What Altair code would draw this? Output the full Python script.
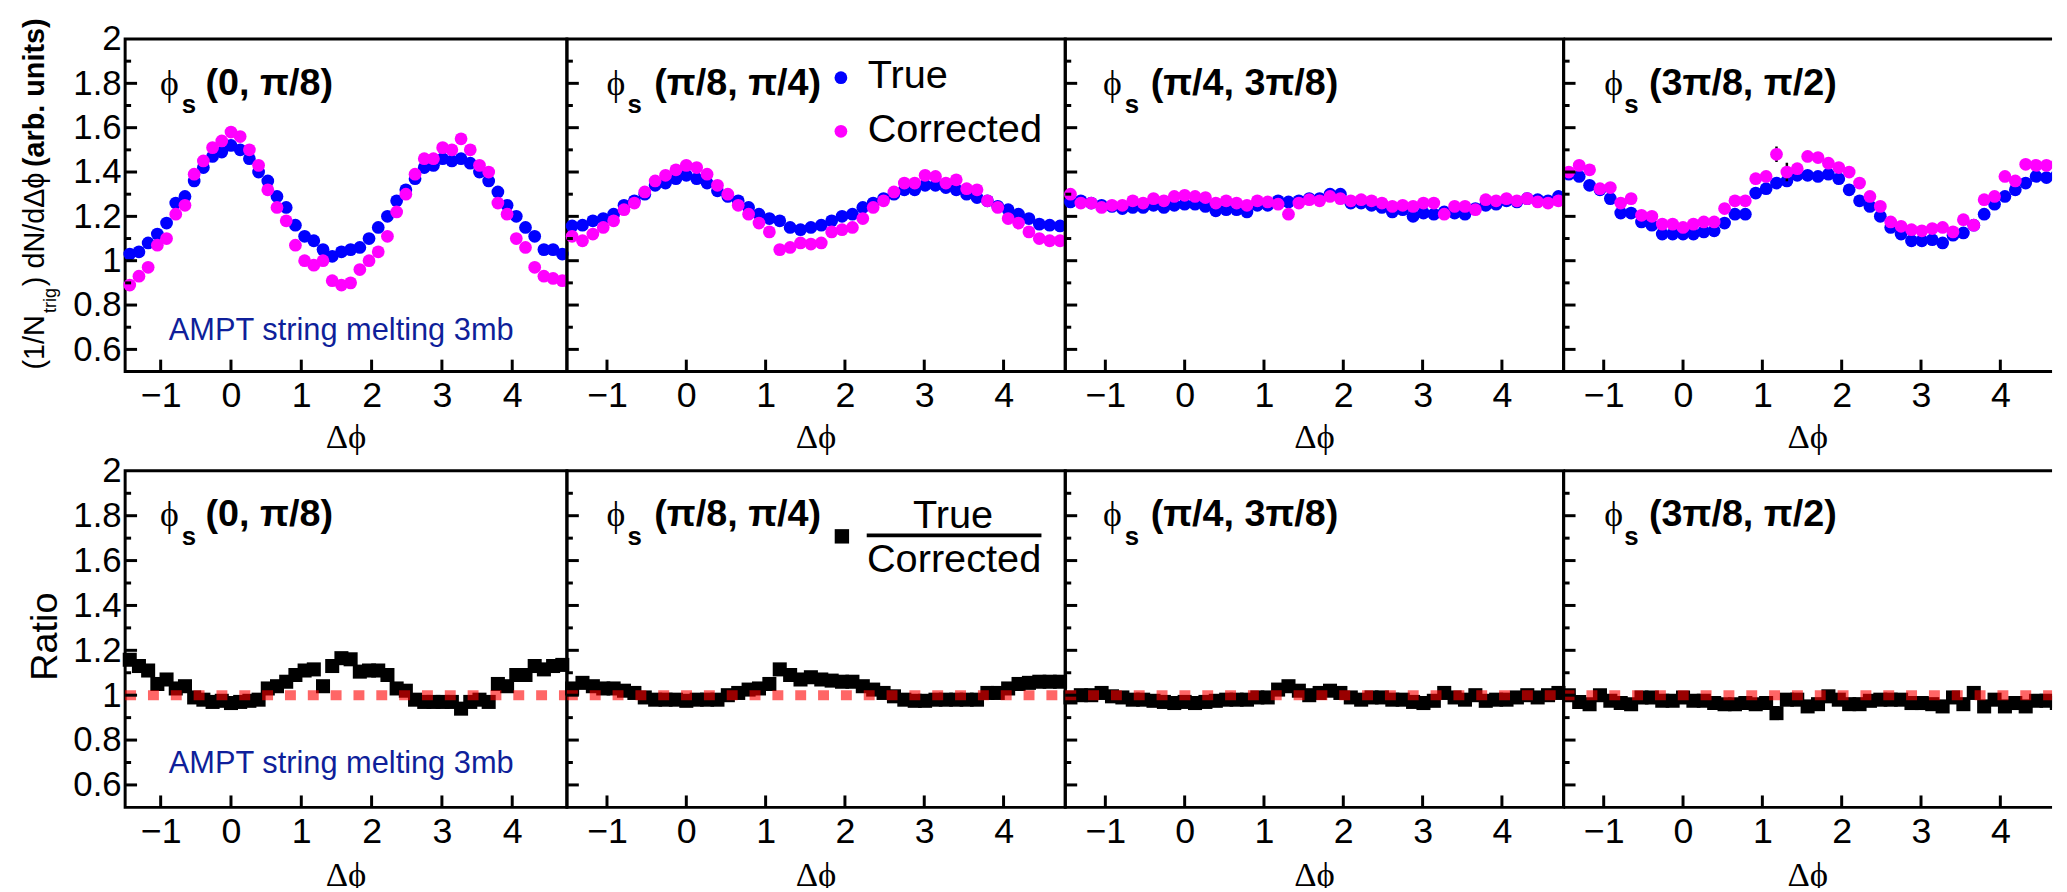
import altair as alt
import pandas as pd

# ---------------- data ----------------
DPHI = [-1.4399, -1.3090, -1.1781, -1.0472, -0.9163, -0.7854, -0.6545, -0.5236,
        -0.3927, -0.2618, -0.1309, 0.0, 0.1309, 0.2618, 0.3927, 0.5236,
        0.6545, 0.7854, 0.9163, 1.0472, 1.1781, 1.3090, 1.4399, 1.5708,
        1.7017, 1.8326, 1.9635, 2.0944, 2.2253, 2.3562, 2.4871, 2.6180,
        2.7489, 2.8798, 3.0107, 3.1416, 3.2725, 3.4034, 3.5343, 3.6652,
        3.7961, 3.9270, 4.0579, 4.1888, 4.3197, 4.4506, 4.5815, 4.7124]

TRUE_1 = [1.03, 1.04, 1.08, 1.12, 1.17, 1.26, 1.29, 1.36, 1.42, 1.47, 1.49, 1.52,
          1.50, 1.46, 1.40, 1.36, 1.29, 1.24, 1.16, 1.11, 1.09, 1.05, 1.02, 1.04,
          1.05, 1.06, 1.10, 1.15, 1.20, 1.27, 1.32, 1.37, 1.42, 1.43, 1.46, 1.45,
          1.46, 1.44, 1.40, 1.36, 1.31, 1.25, 1.20, 1.15, 1.11, 1.05, 1.05, 1.03]
CORR_1 = [0.89, 0.93, 0.97, 1.07, 1.10, 1.21, 1.25, 1.39, 1.45, 1.51, 1.54, 1.58,
          1.56, 1.50, 1.43, 1.32, 1.24, 1.18, 1.07, 1.00, 0.98, 1.00, 0.91, 0.89,
          0.90, 0.96, 1.00, 1.04, 1.11, 1.22, 1.30, 1.39, 1.46, 1.46, 1.51, 1.50,
          1.55, 1.50, 1.43, 1.40, 1.26, 1.21, 1.10, 1.06, 0.97, 0.93, 0.92, 0.91]

TRUE_2 = [1.157, 1.16, 1.18, 1.19, 1.21, 1.25, 1.27, 1.30, 1.34, 1.35, 1.37, 1.385,
          1.37, 1.35, 1.315, 1.29, 1.27, 1.24, 1.21, 1.19, 1.18, 1.15, 1.14, 1.15,
          1.16, 1.18, 1.20, 1.21, 1.24, 1.26, 1.28, 1.30, 1.32, 1.32, 1.34, 1.34,
          1.33, 1.32, 1.30, 1.285, 1.27, 1.245, 1.23, 1.21, 1.19, 1.165, 1.16, 1.157]
CORR_2 = [1.11, 1.09, 1.12, 1.15, 1.18, 1.23, 1.26, 1.31, 1.36, 1.385, 1.41, 1.43,
          1.42, 1.39, 1.34, 1.30, 1.25, 1.21, 1.17, 1.13, 1.05, 1.06, 1.08, 1.075,
          1.08, 1.13, 1.14, 1.15, 1.19, 1.24, 1.27, 1.31, 1.35, 1.35, 1.385, 1.38,
          1.35, 1.365, 1.325, 1.32, 1.27, 1.24, 1.19, 1.17, 1.13, 1.10, 1.09, 1.09]

TRUE_3 = [1.265, 1.27, 1.26, 1.25, 1.245, 1.235, 1.24, 1.24, 1.25, 1.24, 1.25, 1.255,
          1.255, 1.245, 1.225, 1.23, 1.23, 1.22, 1.25, 1.25, 1.27, 1.265, 1.27, 1.28,
          1.28, 1.30, 1.30, 1.26, 1.26, 1.25, 1.24, 1.22, 1.23, 1.20, 1.215, 1.21,
          1.22, 1.215, 1.21, 1.235, 1.25, 1.255, 1.27, 1.265, 1.28, 1.275, 1.27, 1.29]
CORR_3 = [1.30, 1.26, 1.26, 1.24, 1.25, 1.25, 1.27, 1.26, 1.28, 1.27, 1.29, 1.295,
          1.29, 1.285, 1.26, 1.27, 1.26, 1.25, 1.27, 1.265, 1.255, 1.21, 1.26, 1.275,
          1.27, 1.29, 1.28, 1.27, 1.275, 1.27, 1.26, 1.245, 1.25, 1.245, 1.26, 1.26,
          1.21, 1.245, 1.245, 1.23, 1.275, 1.27, 1.28, 1.27, 1.28, 1.265, 1.26, 1.27]

TRUE_4 = [1.39, 1.38, 1.34, 1.32, 1.28, 1.215, 1.215, 1.175, 1.16, 1.12, 1.12, 1.12,
          1.12, 1.13, 1.135, 1.17, 1.21, 1.21, 1.305, 1.325, 1.35, 1.36, 1.385, 1.385,
          1.38, 1.39, 1.37, 1.32, 1.27, 1.245, 1.20, 1.15, 1.12, 1.09, 1.09, 1.095,
          1.08, 1.115, 1.125, 1.16, 1.21, 1.255, 1.29, 1.32, 1.35, 1.38, 1.375, 1.385]
CORR_4 = [1.40, 1.43, 1.41, 1.325, 1.33, 1.26, 1.28, 1.205, 1.20, 1.165, 1.165, 1.15,
          1.165, 1.175, 1.175, 1.235, 1.27, 1.27, 1.37, 1.38, 1.48, 1.40, 1.415, 1.47,
          1.465, 1.44, 1.42, 1.40, 1.35, 1.29, 1.245, 1.175, 1.155, 1.14, 1.135, 1.145,
          1.15, 1.13, 1.185, 1.16, 1.275, 1.29, 1.38, 1.36, 1.435, 1.43, 1.43, 1.435]
CORR_4_ERR = [0.008] * 20 + [0.035, 0.042] + [0.008] * 26

RATIO_1 = [1.158, 1.13, 1.11, 1.05, 1.07, 1.03, 1.04, 0.99, 0.98, 0.97, 0.975, 0.965,
           0.97, 0.975, 0.98, 1.03, 1.04, 1.06, 1.09, 1.11, 1.115, 1.04, 1.13, 1.165,
           1.16, 1.105, 1.11, 1.11, 1.09, 1.03, 1.02, 0.98, 0.97, 0.97, 0.97, 0.97,
           0.94, 0.97, 0.98, 0.97, 1.05, 1.04, 1.09, 1.09, 1.13, 1.115, 1.13, 1.135]
RATIO_2 = [1.03, 1.055, 1.04, 1.03, 1.03, 1.02, 1.01, 0.99, 0.98, 0.98, 0.98, 0.975,
           0.98, 0.98, 0.98, 1.00, 1.01, 1.025, 1.03, 1.05, 1.115, 1.09, 1.07, 1.08,
           1.07, 1.065, 1.06, 1.06, 1.04, 1.025, 1.01, 0.995, 0.98, 0.975, 0.975, 0.98,
           0.98, 0.98, 0.98, 0.98, 1.01, 1.01, 1.03, 1.05, 1.055, 1.06, 1.06, 1.06]
RATIO_3 = [0.99, 1.00, 1.00, 1.01, 0.995, 0.99, 0.98, 0.98, 0.975, 0.97, 0.965, 0.97,
           0.965, 0.97, 0.975, 0.98, 0.98, 0.98, 0.99, 0.99, 1.025, 1.04, 1.02, 1.00,
           1.01, 1.02, 1.01, 0.99, 0.98, 0.99, 0.99, 0.98, 0.98, 0.97, 0.965, 0.975,
           1.01, 0.99, 0.98, 1.00, 0.975, 0.98, 0.98, 0.99, 1.00, 0.99, 1.00, 1.01]
RATIO_4 = [1.00, 0.97, 0.96, 1.00, 0.975, 0.965, 0.96, 0.99, 0.99, 0.975, 0.975, 0.99,
           0.975, 0.975, 0.965, 0.96, 0.96, 0.965, 0.96, 0.965, 0.92, 0.98, 0.98, 0.95,
           0.96, 0.995, 0.98, 0.96, 0.96, 0.975, 0.98, 0.98, 0.98, 0.965, 0.965, 0.96,
           0.95, 0.99, 0.96, 1.01, 0.95, 0.98, 0.95, 0.965, 0.95, 0.975, 0.975, 0.965]

TRUE = [TRUE_1, TRUE_2, TRUE_3, TRUE_4]
CORR = [CORR_1, CORR_2, CORR_3, CORR_4]
RATIO = [RATIO_1, RATIO_2, RATIO_3, RATIO_4]

PANEL_LABELS = ["(0,  π/8)", "(π/8,  π/4)", "(π/4, 3π/8)", "(3π/8,  π/2)"]
Y_LABELS = [0.6, 0.8, 1.0, 1.2, 1.4, 1.6, 1.8, 2.0]
Y_MAJOR = [0.6, 0.8, 1.0, 1.2, 1.4, 1.6, 1.8]
Y_MINOR = [0.7, 0.9, 1.1, 1.3, 1.5, 1.7, 1.9]
X_TICKS = [-1, 0, 1, 2, 3, 4]
RATIO_REF = [1.0]
Y_DOMAIN = [0.5, 2.0]

# ---------------- style / layout ----------------
SANS = "Liberation Sans, Arial, Helvetica, sans-serif"
SERIF = "Liberation Serif, DejaVu Serif, serif"
BLUE = "#0000ff"
MAGENTA = "#ff00ff"
AMPT_COLOR = "#0f1f9a"
CIRCLE_SIZE = 165
SQUARE_SIZE = 200

H_ROW = [335, 339]
WIDTHS = [445, 502, 502, 492]
X0 = -1.5053
X1 = [4.7779, 4.7779, 4.7779, 4.652]
PHI_X = [35, 40, 38, 41]
SUB_X = [57, 61, 60, 61]
LAB_X = [81, 88, 86, 86]


def txt(s, x, y, **kw):
    return alt.Chart(pd.DataFrame({"t": [s]})).mark_text(**kw).encode(
        text="t:N", x=alt.value(x), y=alt.value(y))


def prule(x, x2, y, y2, **kw):
    return alt.Chart(pd.DataFrame({"a": [0]})).mark_rule(**kw).encode(
        x=alt.value(x), x2=alt.value(x2), y=alt.value(y), y2=alt.value(y2))


def make_panel(i, row):
    w = WIDTHS[i]
    H = H_ROW[row]
    clip = (i == 3)
    xs = alt.Scale(domain=[X0, X1[i]], nice=False, zero=False)
    ys = alt.Scale(domain=Y_DOMAIN, nice=False, zero=False)
    xaxis = alt.Axis(values=X_TICKS, title=None, ticks=False, tickSize=0, domain=False,
                     grid=False, labelFontSize=36, labelFont=SANS, labelColor="black",
                     labelPadding=7, labelFlush=False, labelOverlap=False)
    if i == 0:
        yaxis = alt.Axis(values=Y_LABELS, format="~g", title=None, ticks=False, tickSize=0,
                         domain=False, grid=False, labelFontSize=35, labelFont=SANS,
                         labelColor="black", labelPadding=4, labelFlush=False,
                         labelOverlap=False)
    else:
        yaxis = None
    X = alt.X("x:Q", scale=xs, axis=xaxis)
    Y = alt.Y("y:Q", scale=ys, axis=yaxis)

    layers = []
    if row == 0:
        df_t = pd.DataFrame({"x": DPHI, "y": TRUE[i]})
        df_c = pd.DataFrame({"x": DPHI, "y": CORR[i]})
        layers.append(alt.Chart(df_t).mark_circle(size=CIRCLE_SIZE, color=BLUE, opacity=1, clip=clip)
                      .encode(x=X, y=Y))
        if i == 3:
            df_e = pd.DataFrame({"x": DPHI,
                                 "lo": [c - e for c, e in zip(CORR_4, CORR_4_ERR)],
                                 "hi": [c + e for c, e in zip(CORR_4, CORR_4_ERR)]})
            layers.append(alt.Chart(df_e).mark_rule(color="black", strokeWidth=2.5, clip=True)
                          .encode(x=X, y=alt.Y("lo:Q", scale=ys, axis=None), y2="hi:Q"))
        layers.append(alt.Chart(df_c).mark_circle(size=CIRCLE_SIZE, color=MAGENTA, opacity=1, clip=clip)
                      .encode(x=X, y=Y))
    else:
        df_r = pd.DataFrame({"x": DPHI, "y": RATIO[i]})
        layers.append(alt.Chart(df_r).mark_square(size=SQUARE_SIZE, color="black", opacity=1, clip=clip)
                      .encode(x=X, y=Y))
        layers.append(alt.Chart(pd.DataFrame({"y": RATIO_REF}))
                      .mark_rule(color="#ff0000", strokeOpacity=0.6, strokeWidth=10,
                                 strokeDash=[11, 12])
                      .encode(y=Y, x=alt.value(0), x2=alt.value(w)))

    # inward ticks
    layers.append(alt.Chart(pd.DataFrame({"x": X_TICKS})).mark_rule(color="black", strokeWidth=3)
                  .encode(x=X, y=alt.value(H), y2=alt.value(H - 12)))
    layers.append(alt.Chart(pd.DataFrame({"y": Y_MAJOR})).mark_rule(color="black", strokeWidth=3)
                  .encode(y=Y, x=alt.value(0), x2=alt.value(12)))
    layers.append(alt.Chart(pd.DataFrame({"y": Y_MINOR})).mark_rule(color="black", strokeWidth=3)
                  .encode(y=Y, x=alt.value(0), x2=alt.value(6)))

    # panel label phi_s (...)
    layers.append(txt("ϕ", PHI_X[i], 56, font=SERIF, fontSize=36, align="left",
                      baseline="alphabetic", color="black"))
    layers.append(txt("s", SUB_X[i], 75, font=SANS, fontSize=26, fontWeight="bold",
                      align="left", baseline="alphabetic", color="black"))
    layers.append(txt(PANEL_LABELS[i], LAB_X[i], 56, font=SANS, fontSize=38, fontWeight="bold",
                      align="left", baseline="alphabetic", color="black"))
    # x title
    layers.append(txt("Δϕ", w / 2, H + 77 + 2 * row, font=SERIF, fontSize=35, align="center",
                      baseline="alphabetic", color="black"))

    if i == 0:
        layers.append(txt("AMPT string melting 3mb", 44, 303 + row, font=SANS, fontSize=31,
                          align="left", baseline="alphabetic", color=AMPT_COLOR))
        if row == 0:
            layers.append(txt("(1/N", -82, 333, font=SANS, fontSize=29, angle=270,
                              align="left", baseline="alphabetic", color="black"))
            layers.append(txt("trig", -70, 276, font=SANS, fontSize=18, angle=270,
                              align="left", baseline="alphabetic", color="black"))
            layers.append(txt(") dN/dΔϕ", -82, 249, font=SANS, fontSize=29, angle=270,
                              align="left", baseline="alphabetic", color="black"))
            layers.append(txt("(arb. units)", -82, 129, font=SANS, fontSize=29, fontWeight="bold",
                              angle=270, align="left", baseline="alphabetic", color="black"))
        else:
            layers.append(txt("Ratio", -69, 167, font=SANS, fontSize=38, angle=270,
                              align="center", baseline="alphabetic", color="black"))

    if i == 1:
        if row == 0:
            layers.append(alt.Chart(pd.DataFrame({"a": [0]})).mark_circle(size=CIRCLE_SIZE, color=BLUE, opacity=1)
                          .encode(x=alt.value(276), y=alt.value(39)))
            layers.append(alt.Chart(pd.DataFrame({"a": [0]})).mark_circle(size=CIRCLE_SIZE, color=MAGENTA, opacity=1)
                          .encode(x=alt.value(276), y=alt.value(93)))
            layers.append(txt("True", 303, 49, font=SANS, fontSize=40, align="left",
                              baseline="alphabetic", color="black"))
            layers.append(txt("Corrected", 303, 104, font=SANS, fontSize=40, align="left",
                              baseline="alphabetic", color="black"))
        else:
            layers.append(alt.Chart(pd.DataFrame({"a": [0]})).mark_square(size=210, color="black", opacity=1)
                          .encode(x=alt.value(277), y=alt.value(66)))
            layers.append(txt("True", 389, 58, font=SANS, fontSize=40, align="center",
                              baseline="alphabetic", color="black"))
            layers.append(prule(302, 478, 65, 65, color="black", strokeWidth=4))
            layers.append(txt("Corrected", 390, 102, font=SANS, fontSize=40, align="center",
                              baseline="alphabetic", color="black"))

    if i == 3:
        layers.append(prule(0, w, 0, 0, color="black", strokeWidth=3))
        layers.append(prule(0, w, H, H, color="black", strokeWidth=3))
        layers.append(prule(0, 0, 0, H, color="black", strokeWidth=3))
        return alt.layer(*layers).properties(width=w, height=H,
                                             view=alt.ViewBackground(stroke="transparent"))
    return alt.layer(*layers).properties(width=w, height=H)


panels = [make_panel(i, 0) for i in range(4)] + [make_panel(i, 1) for i in range(4)]

chart = (
    alt.concat(*panels, columns=4, spacing=alt.RowColnumber(row=100, column=0), bounds="flush")
    .properties(padding={"left": 11, "top": 5, "right": 0, "bottom": -10}, background="white")
    .configure_view(stroke="black", strokeWidth=3)
)

chart.save("out.html", embed_options={"renderer": "svg", "actions": False})
